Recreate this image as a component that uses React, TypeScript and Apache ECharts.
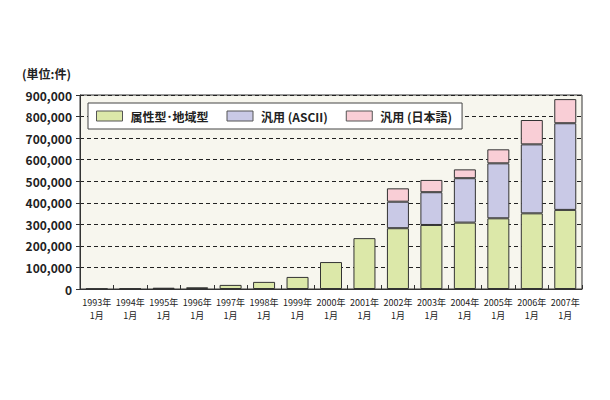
import React, { useEffect, useRef } from "react";
import * as echarts from "echarts";

const categories = [
  "1993年\n1月", "1994年\n1月", "1995年\n1月", "1996年\n1月", "1997年\n1月",
  "1998年\n1月", "1999年\n1月", "2000年\n1月", "2001年\n1月", "2002年\n1月",
  "2003年\n1月", "2004年\n1月", "2005年\n1月", "2006年\n1月", "2007年\n1月",
];
const attrGeo = [2000, 3000, 6000, 8000, 19000, 33000, 56000, 125000, 236000, 282000, 297000, 308000, 328000, 351000, 367000];
const ascii = [null, null, null, null, null, null, null, null, null, 123000, 152000, 206000, 255000, 320000, 402000];
const japanese = [null, null, null, null, null, null, null, null, null, 62000, 57000, 41000, 65000, 113000, 112000];
const seriesNames = ["属性型･地域型", "汎用 (ASCII)", "汎用 (日本語)"];
const unitLabel = "(単位:件)";

const FONT = "'Noto Sans CJK JP', 'Noto Sans', sans-serif";

export default function App() {
  const ref = useRef<HTMLDivElement>(null);
  useEffect(() => {
    if (!ref.current) return;
    const chart = echarts.init(ref.current, undefined, { renderer: "svg" });
    const mk = (name: string, data: (number | null)[], color: string) => ({
      name,
      type: "bar",
      stack: "total",
      data,
      barWidth: 22,
      itemStyle: { color, borderColor: "#333", borderWidth: 1 },
    });
    chart.setOption({
      animation: false,
      backgroundColor: "#ffffff",
      textStyle: { fontFamily: FONT },
      grid: {
        left: 80,
        right: 28,
        top: 95,
        bottom: 111,
        show: true,
        backgroundColor: "#f7f6ee",
        borderColor: "#333",
        borderWidth: 1,
      },
      graphic: [
        {
          type: "text",
          left: 22,
          top: 67,
          style: { text: unitLabel, fontSize: 12, fontWeight: "bold", fill: "#222", fontFamily: FONT },
        },
      ],
      legend: {
        left: 88,
        top: 103,
        icon: "rect",
        itemWidth: 26,
        itemHeight: 10,
        itemGap: 18,
        padding: [7, 10, 7, 8],
        backgroundColor: "#ffffff",
        borderColor: "#444",
        borderWidth: 1,
        textStyle: { fontSize: 12, color: "#222", fontFamily: FONT, fontWeight: "bold", padding: [0, 0, 0, 3] },
        itemStyle: { borderColor: "#555", borderWidth: 1 },
        data: seriesNames,
      },
      xAxis: {
        type: "category",
        data: categories,
        axisLine: { lineStyle: { color: "#333", width: 1 } },
        axisTick: { show: true, inside: true, length: 4, lineStyle: { color: "#333" } },
        axisLabel: { fontSize: 9, color: "#222", lineHeight: 13, interval: 0, margin: 7, fontFamily: FONT },
      },
      yAxis: {
        type: "value",
        min: 0,
        max: 900000,
        interval: 100000,
        axisLine: { show: true, lineStyle: { color: "#333" } },
        axisTick: { show: true, length: 4, lineStyle: { color: "#333" } },
        axisLabel: {
          fontSize: 12,
          color: "#222",
          fontWeight: "bold",
          margin: 8,
          fontFamily: FONT,
          formatter: (v: number) => v.toLocaleString("en-US"),
        },
        splitLine: { show: true, lineStyle: { color: "#222", type: [4, 3], width: 1 } },
      },
      series: [
        mk(seriesNames[0], attrGeo, "#dce8a9"),
        mk(seriesNames[1], ascii, "#c9c9e6"),
        mk(seriesNames[2], japanese, "#f9ced6"),
      ],
    });
    return () => chart.dispose();
  }, []);
  return <div ref={ref} style={{ width: 610, height: 400, margin: -8 }} />;
}
